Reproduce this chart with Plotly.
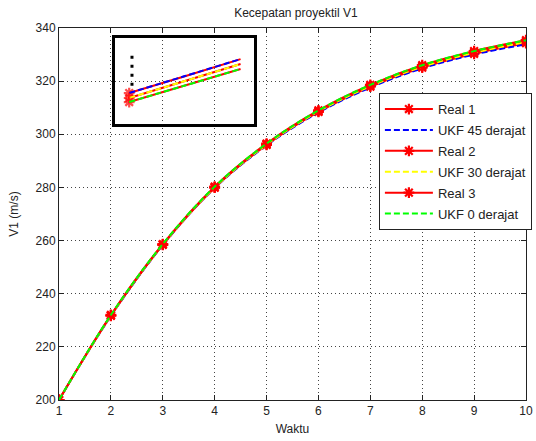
import plotly.graph_objects as go

# Time axis (Waktu) and projectile speed V1 (m/s)
waktu = [1, 2, 3, 4, 5, 6, 7, 8, 9, 10]

real_1 = [200.0, 231.7, 258.4, 279.9, 296.0, 308.4, 317.9, 325.1, 330.3, 334.3]
ukf_45 = [200.0, 231.6, 258.3, 279.8, 295.8, 308.2, 317.6, 324.8, 330.0, 333.9]
real_2 = [200.0, 231.8, 258.5, 280.0, 296.2, 308.6, 318.2, 325.5, 330.8, 334.8]
ukf_30 = [200.0, 231.8, 258.5, 280.0, 296.1, 308.6, 318.1, 325.4, 330.7, 334.7]
real_3 = [200.0, 232.0, 258.7, 280.3, 296.5, 309.0, 318.6, 326.0, 331.3, 335.4]
ukf_0 = [200.0, 232.0, 258.7, 280.3, 296.5, 309.0, 318.6, 326.0, 331.3, 335.4]

# Magnified view of the start of the trajectory
zoom_t = [1.00, 1.04, 1.08]
zoom_real_1 = [200.44, 201.22, 202.02]
zoom_ukf_45 = [200.44, 201.23, 202.02]
zoom_real_2 = [200.21, 201.00, 201.79]
zoom_ukf_30 = [200.21, 201.00, 201.79]
zoom_real_3 = [200.02, 200.79, 201.56]
zoom_ukf_0 = [200.02, 200.79, 201.56]
zoom_mark_t = [1.002, 1.002]
zoom_mark_v = [200.78, 202.40]

legend_names = ["Real 1", "UKF 45 derajat", "Real 2", "UKF 30 derajat", "Real 3", "UKF 0 derajat"]

FONT = "Liberation Sans, Arial, sans-serif"
RED = "#ff0000"
DASH = "6px,3px"


def real_trace(x, y, name, show, xa="x", ya="y", sizes=9):
    return go.Scatter(
        x=x, y=y, name=name, showlegend=show, legendgroup=name or None,
        xaxis=xa, yaxis=ya,
        mode="lines+markers",
        line=dict(color=RED, width=2, shape="spline"),
        marker=dict(symbol="asterisk", size=sizes, color=RED,
                    line=dict(color=RED, width=2.2)),
    )


def ukf_trace(x, y, name, color, show, xa="x", ya="y"):
    return go.Scatter(
        x=x, y=y, name=name, showlegend=show, legendgroup=name or None,
        xaxis=xa, yaxis=ya,
        mode="lines",
        line=dict(color=color, width=2, dash=DASH, shape="spline"),
    )


fig = go.Figure()

# Main axes
fig.add_trace(real_trace(waktu, real_1, legend_names[0], True))
fig.add_trace(ukf_trace(waktu, ukf_45, legend_names[1], "#0000ff", True))
fig.add_trace(real_trace(waktu, real_2, legend_names[2], True))
fig.add_trace(ukf_trace(waktu, ukf_30, legend_names[3], "#ffff00", True))
fig.add_trace(real_trace(waktu, real_3, legend_names[4], True))
fig.add_trace(ukf_trace(waktu, ukf_0, legend_names[5], "#00ff00", True))

# Inset axes
zs = [9, 0, 0]
fig.add_trace(real_trace(zoom_t, zoom_real_1, "", False, "x2", "y2", zs))
fig.add_trace(ukf_trace(zoom_t, zoom_ukf_45, "", "#0000ff", False, "x2", "y2"))
fig.add_trace(real_trace(zoom_t, zoom_real_2, "", False, "x2", "y2", zs))
fig.add_trace(ukf_trace(zoom_t, zoom_ukf_30, "", "#ffff00", False, "x2", "y2"))
fig.add_trace(real_trace(zoom_t, zoom_real_3, "", False, "x2", "y2", zs))
fig.add_trace(ukf_trace(zoom_t, zoom_ukf_0, "", "#00ff00", False, "x2", "y2"))
fig.add_trace(go.Scatter(
    x=zoom_mark_t, y=zoom_mark_v, mode="lines", showlegend=False,
    xaxis="x2", yaxis="y2",
    line=dict(color="black", width=3, dash="3px,6px"),
))

axis_common = dict(
    showline=True, linecolor="#222222", linewidth=1, mirror="ticks",
    ticks="inside", ticklen=5, tickcolor="#222222",
    showgrid=True, gridcolor="#444444", gridwidth=1, griddash="1px,3px",
    zeroline=False, ticklabeloverflow="allow",
    tickfont=dict(family=FONT, size=12, color="#222222"),
)

fig.update_layout(
    width=536, height=441,
    margin=dict(l=59, r=4, t=28, b=41),
    paper_bgcolor="white",
    plot_bgcolor="rgba(0,0,0,0)",
    font=dict(family=FONT, size=12, color="#222222"),
    title=dict(text="Kecepatan proyektil V1", x=0.552, xanchor="center",
               y=0.972, yanchor="middle",
               font=dict(family=FONT, size=12, color="#222222")),
    xaxis=dict(axis_common, range=[1, 10], tickvals=waktu,
               title=dict(text="Waktu", standoff=7,
                          font=dict(family=FONT, size=12, color="#222222"))),
    yaxis=dict(axis_common, range=[200, 340], tickvals=list(range(200, 341, 20)),
               title=dict(text="V1 (m/s)", standoff=14,
                          font=dict(family=FONT, size=12, color="#222222"))),
    xaxis2=dict(domain=[0.1205, 0.4186], anchor="y2", range=[0.99, 1.09],
                showline=True, linecolor="black", linewidth=2.5, mirror=True,
                showticklabels=False, ticks="", showgrid=False, zeroline=False),
    yaxis2=dict(domain=[0.742, 0.973], anchor="x2", range=[199, 203],
                showline=True, linecolor="black", linewidth=2.5, mirror=True,
                showticklabels=False, ticks="", showgrid=False, zeroline=False),
    legend=dict(
        x=0.685, y=0.825, xanchor="left", yanchor="top",
        bgcolor="white", bordercolor="#222222", borderwidth=1,
        font=dict(family=FONT, size=13, color="#222222"),
        itemwidth=48, tracegroupgap=1,
    ),
)

fig.write_html("out.html")
